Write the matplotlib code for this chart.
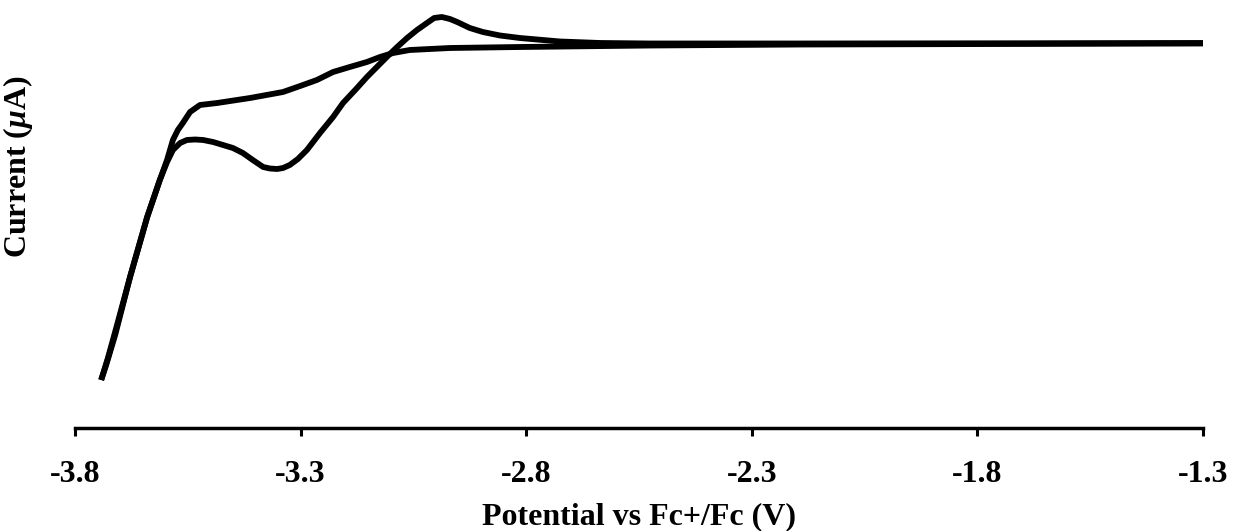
import numpy as np
import matplotlib
matplotlib.use("Agg")
import matplotlib.pyplot as plt

plt.rcParams['font.family'] = ['Liberation Serif', 'DejaVu Serif']
plt.rcParams['font.weight'] = 'bold'
plt.rcParams['mathtext.fontset'] = 'custom'
plt.rcParams['mathtext.rm'] = 'Liberation Serif:bold'
plt.rcParams['mathtext.it'] = 'Liberation Serif:bold:italic'

# forward scan (-1.3 -> -3.74 V)
fwd_v = [-1.300, -1.750, -2.193, -2.526, -2.636, -2.725, -2.814, -2.858, -2.896,
         -2.925, -2.953, -2.969, -2.987, -3.004, -3.020, -3.042, -3.064, -3.086,
         -3.109, -3.131, -3.153, -3.179, -3.206, -3.228, -3.257, -3.286, -3.306,
         -3.324, -3.339, -3.352, -3.368, -3.383, -3.406, -3.428, -3.450, -3.472,
         -3.494, -3.516, -3.534, -3.552, -3.567, -3.583, -3.596, -3.612, -3.640,
         -3.678, -3.711, -3.731, -3.742]
fwd_i = [0.0, -0.03, -0.05, -0.05, 0.0, 0.15, 0.5, 0.75, 1.1,
         1.5, 2.1, 2.4, 2.6, 2.5, 2.0, 1.3, 0.5, -0.4,
         -1.4, -2.4, -3.4, -4.7, -6.0, -7.4, -9.0, -10.7, -11.6,
         -12.2, -12.5, -12.6, -12.55, -12.4, -11.7, -11.0, -10.5, -10.2,
         -9.9, -9.7, -9.65, -9.7, -10.0, -10.7, -11.9, -13.7, -17.4,
         -23.4, -29.2, -32.2, -33.7]

# reverse scan (-3.74 -> -1.3 V)
rev_v = [-3.742, -3.727, -3.705, -3.678, -3.640, -3.612, -3.596, -3.583, -3.572,
         -3.561, -3.545, -3.523, -3.485, -3.412, -3.339, -3.301, -3.264, -3.228,
         -3.191, -3.153, -3.124, -3.095, -3.058, -2.969, -2.814, -2.526, -2.193,
         -1.750, -1.300]
rev_i = [-33.7, -31.5, -27.9, -23.4, -17.4, -13.7, -11.7, -9.7, -8.7,
         -8.0, -6.9, -6.2, -6.0, -5.5, -4.9, -4.3, -3.7, -2.9,
         -2.4, -1.9, -1.4, -1.0, -0.7, -0.5, -0.4, -0.25, -0.15,
         -0.1, -0.05]

W, H = 1234, 531
fig = plt.figure(figsize=(W / 100, H / 100), dpi=100)
ax = fig.add_axes([75 / W, 103 / H, (1203 - 75) / W, 428 / H])

ax.plot(fwd_v, fwd_i, color='black', lw=4.2, solid_capstyle='butt', solid_joinstyle='round')
ax.plot(rev_v, rev_i, color='black', lw=4.2, solid_capstyle='butt', solid_joinstyle='round')

ax.set_xlim(-3.8, -1.3)
ax.set_ylim(-38.5, 4.3)
ax.set_xticks([-3.8, -3.3, -2.8, -2.3, -1.8, -1.3])
ax.set_xticklabels(['-3.8', '-3.3', '-2.8', '-2.3', '-1.8', '-1.3'])
ax.set_yticks([])

for s in ['top', 'right', 'left']:
    ax.spines[s].set_visible(False)
ax.spines['bottom'].set_linewidth(2.5)
ax.tick_params(axis='x', direction='out', length=6, width=2.2, pad=17, labelsize=23)

ax.set_xlabel('Potential vs Fc+/Fc (V)', fontsize=23, fontweight='bold')
ax.xaxis.label.set_va('center')
ax.xaxis.set_label_coords(0.5, (428 - 517) / 428)

ax.set_ylabel('Current ($\\mu$A)', fontsize=23, fontweight='bold')
ax.yaxis.label.set_va('center')
ax.yaxis.set_label_coords((18 - 75) / (1203 - 75), (428 - 167) / 428)

fig.savefig('out.png', dpi=100, facecolor='white')
